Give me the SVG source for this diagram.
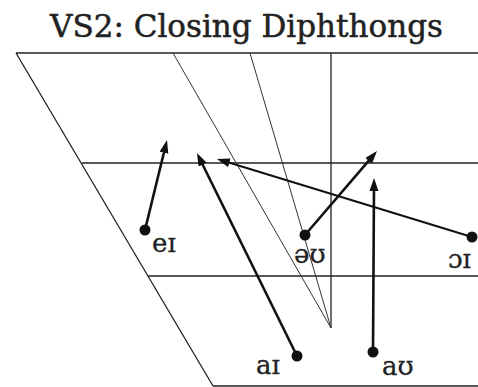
<svg xmlns="http://www.w3.org/2000/svg" width="478" height="387" viewBox="0 0 478 387">
<defs>
<style>
.grid{stroke:#222;stroke-width:1.3;fill:none}
.thin{stroke:#333;stroke-width:1;fill:none}
.arr{stroke:#111;stroke-width:2.6;fill:none;marker-end:url(#ah)}
.arr2{stroke:#111;stroke-width:2;fill:none;marker-end:url(#ah)}
.dot{fill:#111}
.lbl{font-family:"DejaVu Serif",serif;font-size:26px;fill:#222;stroke:#222;stroke-width:0.3}
.title{font-family:"DejaVu Serif",serif;font-size:31px;fill:#222;stroke:#222;stroke-width:0.5}
</style>
<marker id="ah" markerUnits="userSpaceOnUse" markerWidth="14" markerHeight="10" refX="5" refY="4.5" orient="auto">
<path d="M0,0 L13,4.5 L0,9 Z" fill="#111"/>
</marker>
</defs>
<rect width="478" height="387" fill="#fff"/>
<text class="title" x="246.5" y="37" text-anchor="middle">VS2: Closing Diphthongs</text>
<g id="chart">
<line class="grid" x1="16" y1="53" x2="478" y2="53"/>
<line class="grid" x1="82" y1="163" x2="478" y2="163"/>
<line class="grid" x1="148" y1="276" x2="478" y2="276"/>
<line class="grid" x1="213" y1="386" x2="478" y2="386"/>
<line class="grid" x1="16" y1="53" x2="213" y2="386"/>
<line class="grid" x1="331" y1="53" x2="331" y2="328"/>
<line class="thin" x1="173" y1="53" x2="331" y2="328"/>
<line class="thin" x1="250" y1="53" x2="331" y2="328"/>
</g>
<g id="connectors">
<line class="arr" x1="145" y1="230" x2="165.1" y2="147.8"/>
<line class="arr" x1="297" y1="356" x2="200.5" y2="160.2"/>
<line class="arr" x1="305" y1="235" x2="371.8" y2="157.1"/>
<line class="arr2" x1="472" y1="237" x2="224.6" y2="161.3"/>
<line class="arr" x1="373" y1="352" x2="374" y2="186"/>
</g>
<g id="ei"><circle class="dot" cx="145" cy="230" r="5.5"/><text class="lbl" x="152" y="252">eɪ</text></g>
<g id="ai"><circle class="dot" cx="297" cy="356" r="5.5"/><text class="lbl" x="256" y="374">aɪ</text></g>
<g id="ou"><circle class="dot" cx="305" cy="235" r="5.5"/><text class="lbl" x="294" y="263">əʊ</text></g>
<g id="oi"><circle class="dot" cx="472" cy="237" r="5.5"/><text class="lbl" x="448" y="268">ɔɪ</text></g>
<g id="au"><circle class="dot" cx="373" cy="352" r="5.5"/><text class="lbl" x="382" y="375">aʊ</text></g>
</svg>
